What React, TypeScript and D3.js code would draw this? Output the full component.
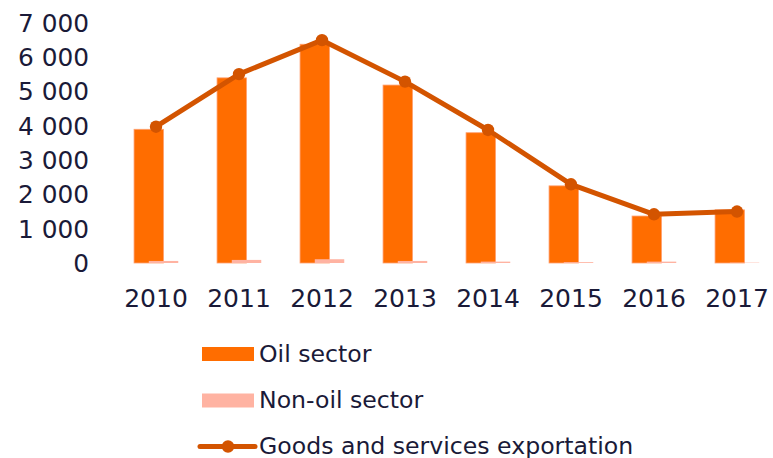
import React from "react";
import * as d3 from "d3";

const years = ["2010", "2011", "2012", "2013", "2014", "2015", "2016", "2017"];
const oilSector = [3900, 5400, 6380, 5190, 3800, 2250, 1370, 1550];
const nonOilSector = [60, 90, 110, 60, 40, 25, 40, 10];
const exportation = [3975, 5510, 6500, 5290, 3880, 2295, 1420, 1500];
const yTicks = [0, 1000, 2000, 3000, 4000, 5000, 6000, 7000];
const legendLabels = ["Oil sector", "Non-oil sector", "Goods and services exportation"];

const W = 773;
const H = 458;
const OIL = "#FF6D00";
const NONOIL = "#FFB3A2";
const LINE = "#D35400";
const TEXT = "#1a1a38";
const FONT = "'DejaVu Sans', sans-serif";

const fmt = (v: number) => {
  const s = String(v);
  return s.length > 3 ? s.slice(0, s.length - 3) + " " + s.slice(-3) : s;
};

export default function App() {
  const x = d3.scaleBand<string>().domain(years).range([114.5, 778.5]).padding(0);
  const y = d3.scaleLinear().domain([0, 7000]).range([263, 23]);
  const bw = x.bandwidth();
  const barW = bw * 0.355;
  const cx = (yr: string) => (x(yr) as number) + bw / 2;

  const line = d3
    .line<number>()
    .x((_, i) => cx(years[i]))
    .y((d) => y(d));

  return (
    <svg width={W} height={H} style={{ position: "absolute", left: 0, top: 0, background: "#fff" }}>
      <g fontFamily={FONT} fill={TEXT}>
        {yTicks.map((t) => (
          <text key={t} x={89} y={y(t)} dy="0.36em" textAnchor="end" fontSize={24.8}>
            {fmt(t)}
          </text>
        ))}
        {years.map((yr) => (
          <text key={yr} x={cx(yr)} y={306.5} textAnchor="middle" fontSize={25}>
            {yr}
          </text>
        ))}
      </g>
      <g>
        {years.map((yr, i) => (
          <rect
            key={"o" + yr}
            x={cx(yr) - barW * 0.745}
            y={y(oilSector[i])}
            width={barW}
            height={y(0) - y(oilSector[i])}
            fill={OIL}
            stroke="#FFA070"
            strokeWidth={0.8}
          />
        ))}
        {years.map((yr, i) => (
          <rect
            key={"n" + yr}
            x={cx(yr) - barW * 0.245}
            y={y(nonOilSector[i])}
            width={barW}
            height={y(0) - y(nonOilSector[i])}
            fill={NONOIL}
          />
        ))}
      </g>
      <path d={line(exportation) || ""} fill="none" stroke={LINE} strokeWidth={5} strokeLinejoin="round" />
      {years.map((yr, i) => (
        <circle key={"c" + yr} cx={cx(yr)} cy={y(exportation[i])} r={6.2} fill={LINE} />
      ))}
      <g fontFamily={FONT} fill={TEXT} fontSize={23.6}>
        <rect x={202} y={347} width={52} height={14} fill={OIL} />
        <text x={259} y={361.5}>{legendLabels[0]}</text>
        <rect x={202} y={393.5} width={52} height={14} fill={NONOIL} />
        <text x={259} y={408}>{legendLabels[1]}</text>
        <line x1={200} x2={255} y1={446.5} y2={446.5} stroke={LINE} strokeWidth={5} strokeLinecap="round" />
        <circle cx={228} cy={446.5} r={6.2} fill={LINE} />
        <text x={259} y={453.5}>{legendLabels[2]}</text>
      </g>
    </svg>
  );
}
